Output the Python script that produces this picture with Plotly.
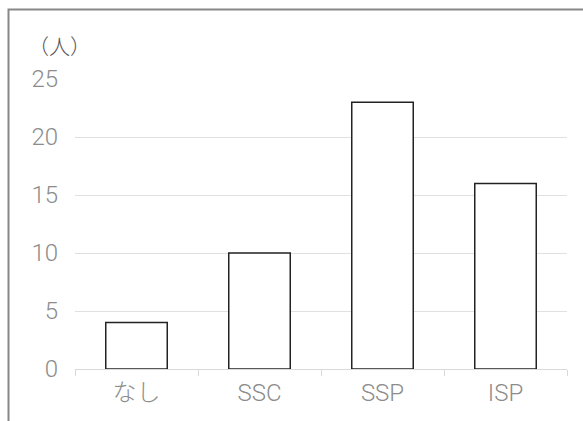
import plotly.graph_objects as go

categories = ["なし", "SSC", "SSP", "ISP"]
values = [4, 10, 23, 16]
y_ticks = [0, 5, 10, 15, 20, 25]

W, H = 583, 421
L, R, T, B = 75, 16, 79, 52
pw, ph = W - L - R, H - T - B

fig = go.Figure(go.Bar(
    x=categories, y=values, width=0.5,
    marker=dict(color="white", line=dict(color="#222222", width=1.5)),
))

font = dict(family="Roboto, Noto Sans CJK JP, sans-serif", size=24, color="#8c8c8c", weight=300)

fig.update_layout(
    width=W, height=H,
    margin=dict(l=L, r=R, t=T, b=B),
    paper_bgcolor="white", plot_bgcolor="white",
    font=font,
    showlegend=False,
    bargap=0.5,
)
fig.update_yaxes(
    range=[0, 25], tickvals=y_ticks, showgrid=True, gridcolor="#e0e0e0", gridwidth=1,
    zeroline=False, showline=False, ticks="", ticklabelstandoff=16,
    tickfont=font,
)
fig.update_xaxes(
    showgrid=False, showline=True, linecolor="#d9d9d9", linewidth=1,
    ticks="outside", ticklen=6, tickcolor="#d9d9d9", tickson="boundaries",
    tickfont=font, ticklabelstandoff=2,
)
# outer frame
fig.add_shape(type="rect", xref="paper", yref="paper",
              x0=(8.5 - L) / pw, x1=(W + 20 - L) / pw,
              y0=(H - B - (H + 20)) / ph, y1=(H - B - 9.5) / ph,
              line=dict(color="#888888", width=2), fillcolor="rgba(0,0,0,0)", layer="above")
fig.add_annotation(text="（人）", xref="paper", yref="paper",
                   x=(26 - L) / pw, y=(H - B - 45) / ph, xanchor="left", yanchor="middle",
                   showarrow=False,
                   font=dict(family="Noto Sans CJK JP", size=21, color="#555555", weight=300))

fig.write_html("out.html")
